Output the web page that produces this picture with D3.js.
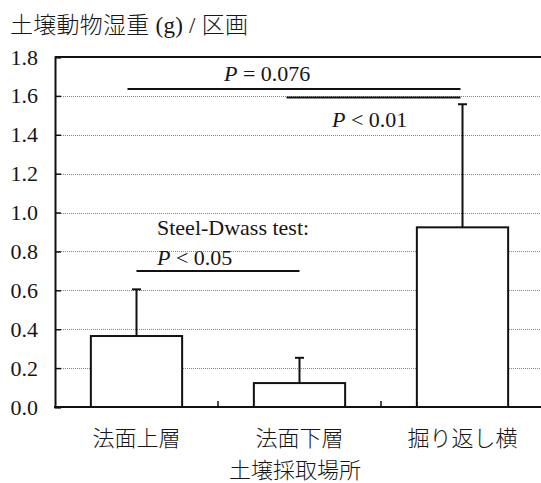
<!DOCTYPE html>
<html>
<head>
<meta charset="utf-8">
<script src="https://cdn.jsdelivr.net/npm/d3@7"></script>
<style>
  html, body { margin: 0; padding: 0; background: #fff; }
  svg text { font-family: "Liberation Serif", "Times New Roman", "Noto Sans CJK JP", serif; fill: #161616; }
</style>
</head>
<body>
<svg id="chart" width="541" height="483"></svg>
<script>
// ---- data ----
const categories = ["法面上層", "法面下層", "掘り返し横"];
const means = [0.365, 0.123, 0.924];
const errors = [0.240, 0.130, 0.633];   // upper error (SD)
const yTicks = [0.0, 0.2, 0.4, 0.6, 0.8, 1.0, 1.2, 1.4, 1.6, 1.8];
const yTitle = "土壌動物湿重 (g) / 区画";
const xTitle = "土壌採取場所";
// comparisons: from/to category index, y level (data units), label
const compFrom = [0, 1, 0];
const compTo = [2, 2, 1];
const compLevel = [1.635, 1.592, 0.70];
const compLabel = ["= 0.076", "< 0.01", "< 0.05"];
const testName = "Steel-Dwass test:";

// ---- layout ----
const W = 541, H = 483;
const m = { left: 55, top: 57, right: 544, bottom: 407 };
const SERIF = '"Liberation Serif", "Times New Roman", serif';
const svg = d3.select("#chart");
svg.append("rect").attr("width", W).attr("height", H).attr("fill", "#fff");

const x = d3.scaleBand().domain(categories).range([m.left, m.right])
  .paddingInner(0.44).paddingOuter(0.22);
const y = d3.scaleLinear().domain([0, 1.8]).range([m.bottom, m.top]);
const cx = i => x(categories[i]) + x.bandwidth() / 2;

// gridlines (dotted)
svg.append("g").selectAll("line").data(yTicks.filter(t => t > 0 && t < 1.8)).join("line")
  .attr("x1", m.left).attr("x2", W)
  .attr("y1", d => Math.round(y(d)) + 0.5).attr("y2", d => Math.round(y(d)) + 0.5)
  .attr("stroke", "#8a8a8a").attr("stroke-width", 1).attr("stroke-dasharray", "1,1");

// top border at 1.8
svg.append("line").attr("x1", m.left).attr("x2", W)
  .attr("y1", y(1.8)).attr("y2", y(1.8)).attr("stroke", "#111").attr("stroke-width", 2);

// y axis
const yAxis = d3.axisLeft(y).tickValues(yTicks).tickSize(-6).tickPadding(17)
  .tickFormat(d3.format(".1f"));
const gy = svg.append("g").attr("transform", `translate(${m.left},0)`).call(yAxis)
  .attr("font-family", null).attr("font-size", null);
gy.select(".domain").attr("stroke", "#111").attr("stroke-width", 2);
gy.selectAll(".tick line").attr("stroke", "#111").attr("stroke-width", 1.5);
gy.selectAll(".tick text").attr("fill", "#161616")
  .style("font-family", SERIF).style("font-size", "22px");

// bars
svg.append("g").selectAll("rect").data(means).join("rect")
  .attr("x", (d, i) => x(categories[i]))
  .attr("y", d => y(d))
  .attr("width", x.bandwidth())
  .attr("height", d => y(0) - y(d))
  .attr("fill", "#fff").attr("stroke", "#111").attr("stroke-width", 2);

// error bars (upper)
const eg = svg.append("g").attr("stroke", "#111").attr("stroke-width", 2);
means.forEach((d, i) => {
  eg.append("line").attr("x1", cx(i)).attr("x2", cx(i))
    .attr("y1", y(d)).attr("y2", y(d + errors[i]));
  eg.append("line").attr("x1", cx(i) - 4.5).attr("x2", cx(i) + 4.5)
    .attr("y1", y(d + errors[i])).attr("y2", y(d + errors[i]));
});

// x axis
svg.append("line").attr("x1", m.left - 1).attr("x2", W)
  .attr("y1", y(0)).attr("y2", y(0)).attr("stroke", "#111").attr("stroke-width", 2);
// category boundary ticks (inside)
const bounds = [1, 2].map(i => x(categories[i]) - x.step() * x.paddingInner() / 2);
svg.append("g").selectAll("line").data(bounds).join("line")
  .attr("x1", d => d).attr("x2", d => d)
  .attr("y1", y(0)).attr("y2", y(0) - 6)
  .attr("stroke", "#111").attr("stroke-width", 1.5);

// category labels
svg.append("g").selectAll("text").data(categories).join("text")
  .attr("x", (d, i) => cx(i)).attr("y", 446)
  .attr("text-anchor", "middle").style("font-size", "22px")
  .style("font-family", '"Noto Sans CJK JP", sans-serif').style("font-weight", 300)
  .text(d => d);

// axis titles
svg.append("text").attr("x", 295).attr("y", 478).attr("text-anchor", "middle")
  .style("font-size", "22px").style("font-family", '"Noto Sans CJK JP", sans-serif')
  .style("font-weight", 300).text(xTitle);
svg.append("text").attr("x", 10).attr("y", 33).style("font-size", "23px")
  .style("font-weight", 300)
  .attr("textLength", 238).attr("lengthAdjust", "spacing").text(yTitle);

// comparison brackets
const compX1 = [cx(0) - 9, cx(1) - 13, cx(0)];
const ag = svg.append("g");
compLevel.forEach((lv, k) => {
  ag.append("line").attr("x1", compX1[k]).attr("x2", cx(compTo[k]) - 2 * (compTo[k] === 2 ? 1 : 0))
    .attr("y1", y(lv)).attr("y2", y(lv)).attr("stroke", "#111").attr("stroke-width", 2);
});
function pText(xp, yp, rest) {
  const t = ag.append("text").attr("x", xp).attr("y", yp).style("font-size", "22px");
  t.append("tspan").style("font-style", "italic").text("P");
  t.append("tspan").text(" " + rest);
  return t;
}
pText(224, 81, compLabel[0]);
pText(332, 127, compLabel[1]);
ag.append("text").attr("x", 157).attr("y", 235).style("font-size", "22px").text(testName);
pText(157, 265, compLabel[2]);
</script>
</body>
</html>
